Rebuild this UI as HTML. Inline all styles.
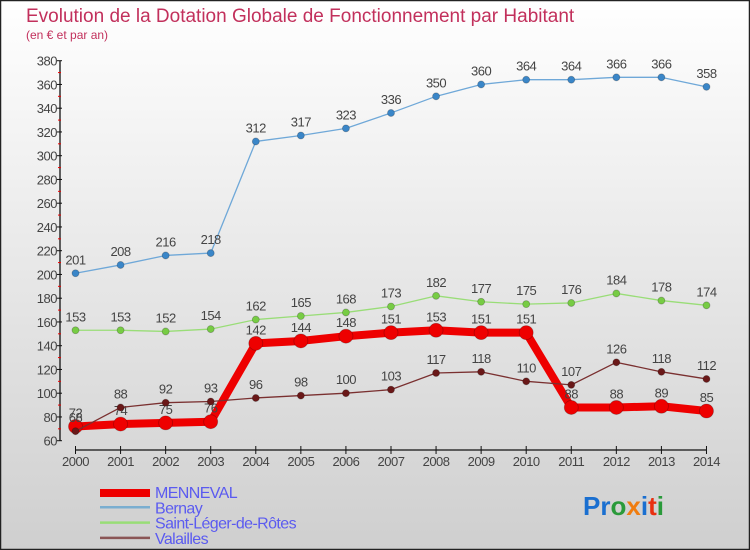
<!DOCTYPE html>
<html><head><meta charset="utf-8"><style>
body{margin:0;}
#wrap{width:750px;height:550px;position:relative;overflow:hidden;}
svg{display:block;font-family:"Liberation Sans","DejaVu Sans",sans-serif;}
</style></head><body>
<div id="wrap">
<svg id="chart" width="750" height="550" viewBox="0 0 750 550">
<defs><linearGradient id="bg" x1="0" y1="0" x2="0" y2="1"><stop offset="0" stop-color="#ffffff"/><stop offset="1" stop-color="#cfcfcf"/></linearGradient></defs>
<rect x="0.5" y="0.5" width="749" height="549" fill="url(#bg)" stroke="#222" stroke-width="1.5"/>
<text x="26" y="22" font-size="19" fill="#c2305c">Evolution de la Dotation Globale de Fonctionnement par Habitant</text>
<text x="26" y="39" font-size="12" fill="#c2305c">(en € et par an)</text>
<g id="axes"></g><g id="series"></g><g id="legend"></g>
<text x="583" y="515" font-size="26" font-weight="bold"><tspan fill="#1a6fd0">Pr</tspan><tspan fill="#2a9a3a">o</tspan><tspan fill="#f07d10">x</tspan><tspan fill="#1a6fd0">i</tspan><tspan fill="#e83010">t</tspan><tspan fill="#2a9a3a">i</tspan></text>
</svg></div>
<script>
const years=[2000,2001,2002,2003,2004,2005,2006,2007,2008,2009,2010,2011,2012,2013,2014];
const yTicks=[60,80,100,120,140,160,180,200,220,240,260,280,300,320,340,360,380];
const menneval=[72,74,75,76,142,144,148,151,153,151,151,88,88,89,85];
const bernay=[201,208,216,218,312,317,323,336,350,360,364,364,366,366,358];
const saintLeger=[153,153,152,154,162,165,168,173,182,177,175,176,184,178,174];
const valailles=[68,88,92,93,96,98,100,103,117,118,110,107,126,118,112];
const NS="http://www.w3.org/2000/svg";
function X(i){return 75.5+i*45.07;}
function Y(v){return 440.7-(v-60)*1.1875;}
function mk(tag,attrs,parent){const e=document.createElementNS(NS,tag);for(const k in attrs)e.setAttribute(k,attrs[k]);parent.appendChild(e);return e;}
const axes=document.getElementById('axes');
let ya=mk('line',{x1:60,y1:Y(60),x2:60,y2:Y(380),stroke:'#111','stroke-width':1.3},axes);


yTicks.forEach((t,i)=>{
  const tk=mk('line',{x1:57,x2:62,y1:Y(t),y2:Y(t),stroke:'#111'},axes);
  
  
  if(i<yTicks.length-1){const m=mk('line',{x1:58,x2:61,y1:Y(t+10),y2:Y(t+10),stroke:'#e00'},axes);
    
    }
  const tx=mk('text',{x:57,y:Y(t)+5,'text-anchor':'end','font-size':13,fill:'#444','letter-spacing':'-0.5'},axes);
  tx.textContent=t;
  
  
});
let xa=mk('line',{x1:X(0),y1:450,x2:X(14),y2:450,stroke:'#111','stroke-width':1.3},axes);


years.forEach((yr,i)=>{
  const tk=mk('line',{x1:X(i),x2:X(i),y1:446,y2:454,stroke:'#111'},axes);
  
  
  const tx=mk('text',{x:X(i),y:466,'text-anchor':'middle','font-size':13,fill:'#444','letter-spacing':'-0.5'},axes);
  tx.textContent=yr;
  
  
});
const ser=document.getElementById('series');
function draw(vals,color,dot,width,r,name,labelDy){
  const g=mk('g',{},ser);
  
  
  const pl=mk('polyline',{points:vals.map((v,i)=>X(i)+','+Y(v)).join(' '),fill:'none',stroke:color,'stroke-width':width,'stroke-linejoin':'round'},g);
  
  
  vals.forEach((v,i)=>{
    const c=mk('circle',{cx:X(i),cy:Y(v),r:r,fill:dot,stroke:'rgba(0,0,0,0.25)','stroke-width':0.8},g);
    
    
    const t=mk('text',{x:X(i),y:Y(v)+labelDy,'text-anchor':'middle','font-size':13,fill:'#444','letter-spacing':'-0.5'},g);
    t.textContent=v;
    
    
  });
}
draw(bernay,'#6fa8d8','#3a86c8',1.3,3.5,'bernay',-9);
draw(saintLeger,'#99dd77','#77cc44',1.3,3.5,'saint-leger',-9);
draw(menneval,'#ee0000','#ee0000',8,7,'menneval',-9);
draw(valailles,'#7a3030','#6a1818',1.3,3.5,'valailles',-9);
const legendNames=['MENNEVAL','Bernay','Saint-Léger-de-Rôtes','Valailles'];
const legendColors=['#ee0000','#7aaed0','#99dd77','#8a5555'];
const legendWidths=[8,2.5,2.5,2.5];
const lg=document.getElementById('legend');
legendNames.forEach((n,i)=>{
  const y=492+i*15.3;
  const l=mk('line',{x1:100,x2:150,y1:y+(i==0?1:0),y2:y+(i==0?1:0),stroke:legendColors[i],'stroke-width':legendWidths[i]},lg);
  
  
  const t=mk('text',{x:155,y:y+6,'font-size':16,fill:'#5b5bf0','letter-spacing':'-0.6'},lg);
  t.textContent=n;
  
  
});
</script>
</body></html>
